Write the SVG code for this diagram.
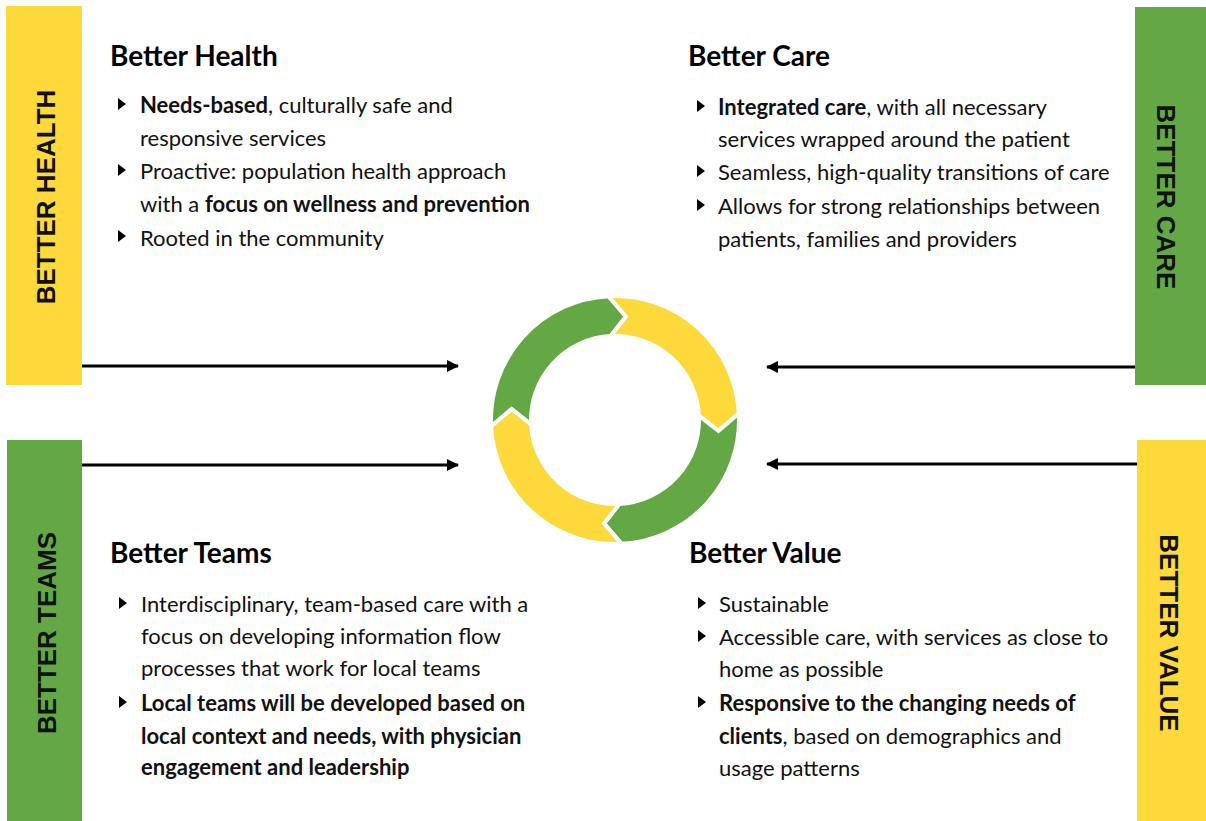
<svg xmlns="http://www.w3.org/2000/svg" width="1206" height="821" viewBox="0 0 1206 821">
<style>
.bar-y{fill:#FDD93B}
.bar-g{fill:#63A845}
.bar-t{font-family:"Liberation Sans",Arial,sans-serif;font-weight:bold;font-size:26px;fill:#111;text-anchor:middle}
.head{font-family:Lato,"Liberation Sans",sans-serif;font-weight:bold;font-size:28px;fill:#000}
.body{font-family:Lato,"Liberation Sans",sans-serif;font-size:22px;fill:#111}
.b{font-weight:bold}
.bul{fill:#000}
.seg{stroke:#fff;stroke-width:4;stroke-linejoin:miter}
.conn{stroke:#000;stroke-width:3;fill:none}
</style>
<defs>
<marker id="ah" markerWidth="12" markerHeight="12" viewBox="0 0 12 12" refX="11" refY="6" orient="auto" markerUnits="userSpaceOnUse">
<path d="M0,0 L12,6 L0,12 Z" fill="#000"/>
</marker>
</defs>
<rect width="1206" height="821" fill="#fff"/>

<g id="bar-better-health">
<rect class="bar-y" x="6" y="6" width="76" height="379"/>
<text class="bar-t" transform="translate(55,197) rotate(-90)">BETTER HEALTH</text>
</g>
<g id="bar-better-care">
<rect class="bar-g" x="1135" y="7" width="71" height="378"/>
<text class="bar-t" transform="translate(1157,197) rotate(90)">BETTER CARE</text>
</g>
<g id="bar-better-teams">
<rect class="bar-g" x="7" y="440" width="75" height="381"/>
<text class="bar-t" transform="translate(56,633) rotate(-90)">BETTER TEAMS</text>
</g>
<g id="bar-better-value">
<rect class="bar-y" x="1137" y="440" width="69" height="381"/>
<text class="bar-t" transform="translate(1160,633) rotate(90)">BETTER VALUE</text>
</g>

<g id="cycle">
<path class="seg" fill="#63A845" d="M491.17,426.49 A124,124 0 0 1 608.51,296.17 L625.87,316.57 L610.60,336.12 A84,84 0 0 0 531.12,424.40 L511.57,409.13 Z"/>
<path class="seg" fill="#FDD93B" d="M608.51,296.17 A124,124 0 0 1 738.83,413.51 L718.43,430.87 L698.88,415.60 A84,84 0 0 0 610.60,336.12 L625.87,316.57 Z"/>
<path class="seg" fill="#63A845" d="M738.83,413.51 A124,124 0 0 1 621.49,543.83 L604.13,523.43 L619.40,503.88 A84,84 0 0 0 698.88,415.60 L718.43,430.87 Z"/>
<path class="seg" fill="#FDD93B" d="M621.49,543.83 A124,124 0 0 1 491.17,426.49 L511.57,409.13 L531.12,424.40 A84,84 0 0 0 619.40,503.88 L604.13,523.43 Z"/>
</g>

<g id="connectors">
<line class="conn" x1="82" y1="366" x2="458" y2="366" marker-end="url(#ah)"/>
<line class="conn" x1="82" y1="465" x2="458" y2="465" marker-end="url(#ah)"/>
<line class="conn" x1="1135" y1="367" x2="767" y2="367" marker-end="url(#ah)"/>
<line class="conn" x1="1137" y1="464" x2="767" y2="464" marker-end="url(#ah)"/>
</g>

<g id="better-health">
<text class="head" x="110" y="66">Better Health</text>
<path class="bul" d="M118,98 L126,104 L118,110 Z"/>
<path class="bul" d="M118,164 L126,170 L118,176 Z"/>
<path class="bul" d="M118,230 L126,236 L118,242 Z"/>
<text class="body" x="140" y="113"><tspan class="b">Needs-based</tspan>, culturally safe and</text>
<text class="body" x="140" y="146">responsive services</text>
<text class="body" x="140" y="179">Proactive: population health approach</text>
<text class="body" x="140" y="212">with a <tspan class="b">focus on wellness and prevention</tspan></text>
<text class="body" x="140" y="246">Rooted in the community</text>
</g>

<g id="better-care">
<text class="head" x="688" y="66">Better Care</text>
<path class="bul" d="M697,100 L705,106 L697,112 Z"/>
<path class="bul" d="M697,165 L705,171 L697,177 Z"/>
<path class="bul" d="M697,199 L705,205 L697,211 Z"/>
<text class="body" x="718" y="115"><tspan class="b">Integrated care</tspan>, with all necessary</text>
<text class="body" x="718" y="147">services wrapped around the patient</text>
<text class="body" x="718" y="180">Seamless, high-quality transitions of care</text>
<text class="body" x="718" y="214">Allows for strong relationships between</text>
<text class="body" x="718" y="247">patients, families and providers</text>
</g>

<g id="better-teams">
<text class="head" x="110" y="563">Better Teams</text>
<path class="bul" d="M119,597 L127,603 L119,609 Z"/>
<path class="bul" d="M119,696 L127,702 L119,708 Z"/>
<text class="body" x="141" y="612">Interdisciplinary, team-based care with a</text>
<text class="body" x="141" y="644">focus on developing information flow</text>
<text class="body" x="141" y="676">processes that work for local teams</text>
<text class="body b" x="141" y="711">Local teams will be developed based on</text>
<text class="body b" x="141" y="744">local context and needs, with physician</text>
<text class="body b" x="141" y="775">engagement and leadership</text>
</g>

<g id="better-value">
<text class="head" x="689" y="563">Better Value</text>
<path class="bul" d="M698,597 L706,603 L698,609 Z"/>
<path class="bul" d="M698,630 L706,636 L698,642 Z"/>
<path class="bul" d="M698,696 L706,702 L698,708 Z"/>
<text class="body" x="719" y="612">Sustainable</text>
<text class="body" x="719" y="645">Accessible care, with services as close to</text>
<text class="body" x="719" y="677">home as possible</text>
<text class="body" x="719" y="711"><tspan class="b">Responsive to the changing needs of</tspan></text>
<text class="body" x="719" y="744"><tspan class="b">clients</tspan>, based on demographics and</text>
<text class="body" x="719" y="776">usage patterns</text>
</g>
</svg>
